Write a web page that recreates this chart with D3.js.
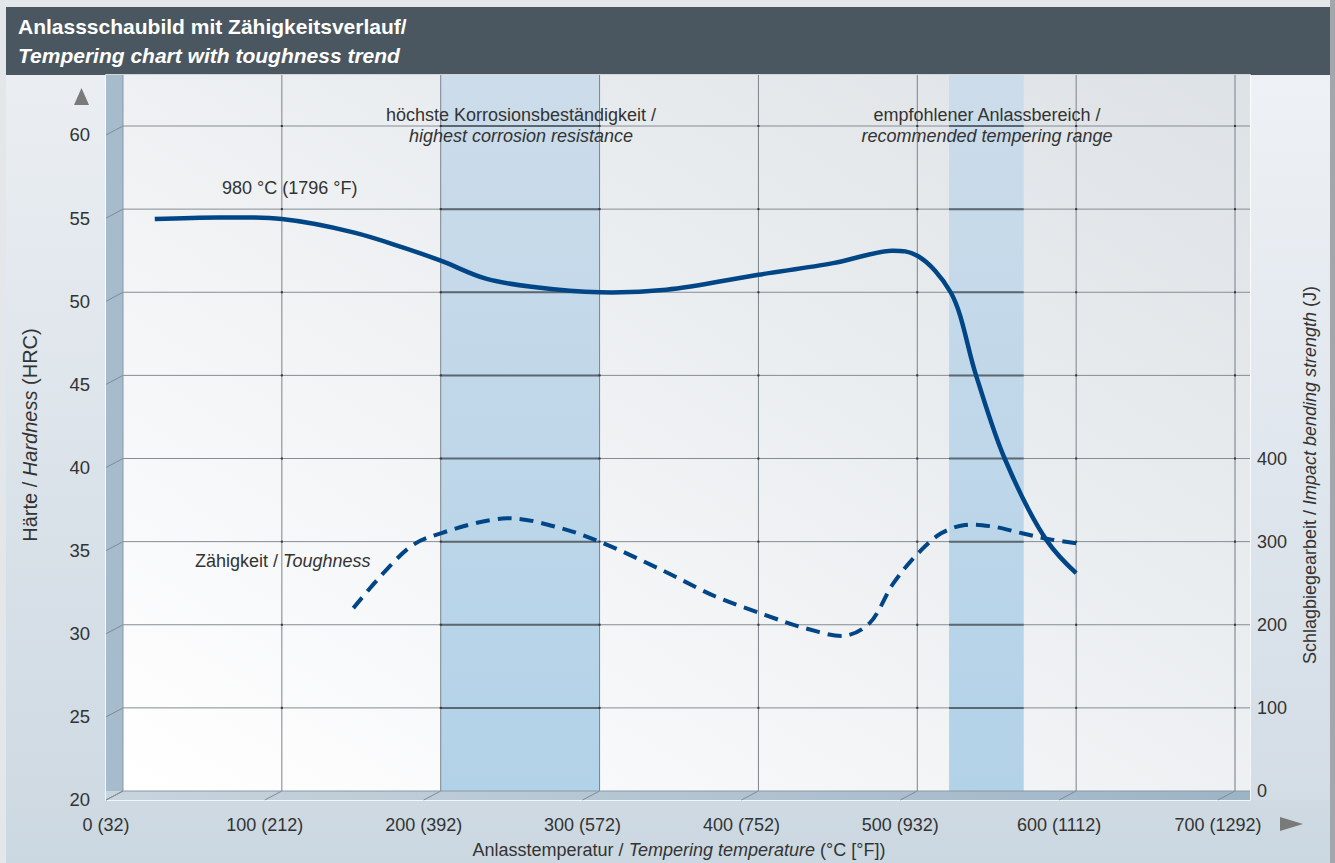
<!DOCTYPE html>
<html>
<head>
<meta charset="utf-8">
<script src="https://cdn.jsdelivr.net/npm/d3@7"></script>
<style>
  body { margin: 0; background: #e4e7ea; }
  svg { display: block; font-family: "Liberation Sans", Arial, sans-serif; }
</style>
</head>
<body>
<div id="chart"></div>
<script>
const width = 1335;
const height = 863;

// x axis: tempering temperature in °C, labels with °F
const tempTicks = [0, 100, 200, 300, 400, 500, 600, 700];
const tempLabels = ["0 (32)", "100 (212)", "200 (392)", "300 (572)", "400 (752)", "500 (932)", "600 (1112)", "700 (1292)"];
// left axis: hardness HRC
const hardTicks = [20, 25, 30, 35, 40, 45, 50, 55, 60];
// right axis: impact bending strength J
const impactTicks = [0, 100, 200, 300, 400];

// hardness after hardening at 980 °C
const hardnessTemp = [20, 60, 100, 145, 176, 200, 229, 260, 300, 342, 400, 447, 484, 500, 521, 537, 555, 582, 600];
const hardnessHRC = [54.4, 54.5, 54.4, 53.6, 52.7, 51.9, 50.8, 50.3, 50.0, 50.15, 51.05, 51.75, 52.5, 52.2, 50.0, 45.0, 40.0, 35.0, 33.1];

// toughness trend
const toughTemp = [145, 181, 200, 242, 276, 300, 339, 373, 404, 429, 455, 470, 485, 500, 515, 530, 548, 566, 583, 600];
const toughJ = [220, 294, 310, 328, 316, 300, 266, 234, 212, 196, 187, 202, 250, 285, 310, 320, 318, 310, 303, 298];

// shaded ranges (°C)
const bandStart = [200, 520];
const bandEnd = [300, 567];

const x = d3.scaleLinear().domain([0, 700]).range([123, 1235]);
const y = d3.scaleLinear().domain([20, 60]).range([791, 126]);
const yJ = d3.scaleLinear().domain([0, 400]).range([y(20), y(40)]);
const dx = -17, dy = 9; // perspective offset of front edge

const svg = d3.select("#chart").append("svg")
  .attr("width", width).attr("height", height);

const defs = svg.append("defs");
const pageGrad = defs.append("linearGradient").attr("id", "pageGrad")
  .attr("x1", 0).attr("y1", 0).attr("x2", 0).attr("y2", 1);
pageGrad.append("stop").attr("offset", 0).attr("stop-color", "#edf0f4");
pageGrad.append("stop").attr("offset", 1).attr("stop-color", "#ccd8e1");

const sideGrad = defs.append("linearGradient").attr("id", "sideGrad")
  .attr("x1", 0).attr("y1", 0).attr("x2", 0).attr("y2", 1);
sideGrad.append("stop").attr("offset", 0).attr("stop-color", "#eef1f5");
sideGrad.append("stop").attr("offset", 1).attr("stop-color", "#d3dde6");

const wallGrad = defs.append("linearGradient").attr("id", "wallGrad")
  .attr("x1", 0).attr("y1", 1).attr("x2", 1).attr("y2", 0);
wallGrad.append("stop").attr("offset", 0).attr("stop-color", "#ffffff");
wallGrad.append("stop").attr("offset", 1).attr("stop-color", "#dde2e6");

const bandGrad = defs.append("linearGradient").attr("id", "bandGrad")
  .attr("x1", 0).attr("y1", 0).attr("x2", 0).attr("y2", 1);
bandGrad.append("stop").attr("offset", 0).attr("stop-color", "#ccdcea");
bandGrad.append("stop").attr("offset", 1).attr("stop-color", "#b2d2e8");

const floorGrad = defs.append("linearGradient").attr("id", "floorGrad")
  .attr("x1", 0).attr("y1", 0).attr("x2", 1).attr("y2", 0);
floorGrad.append("stop").attr("offset", 0).attr("stop-color", "#c8d4de");
floorGrad.append("stop").attr("offset", 1).attr("stop-color", "#9db4c5");

// page background
svg.append("rect").attr("x", 6).attr("y", 7).attr("width", 1324).attr("height", height - 7)
  .attr("fill", "url(#pageGrad)");
svg.append("rect").attr("x", 1330).attr("y", 0).attr("width", 5).attr("height", height)
  .attr("fill", "#a3a7ab");

// right panel
svg.append("rect").attr("x", 1250).attr("y", 75).attr("width", 80).attr("height", 725)
  .attr("fill", "url(#sideGrad)");

// title bar
svg.append("rect").attr("x", 6).attr("y", 7).attr("width", 1324).attr("height", 68)
  .attr("fill", "#4a5760");
svg.append("text").attr("x", 18).attr("y", 34).attr("fill", "#fff")
  .style("font-size", "21px").style("font-weight", "bold")
  .text("Anlassschaubild mit Zähigkeitsverlauf/");
svg.append("text").attr("x", 18).attr("y", 63).attr("fill", "#fff")
  .style("font-size", "21px").style("font-weight", "bold").style("font-style", "italic")
  .text("Tempering chart with toughness trend");

// plot box
const plotLeft = x(0) + dx, plotRight = 1250, plotTop = 75, plotBottom = y(20) + dy;
svg.append("rect").attr("x", plotLeft).attr("y", plotTop)
  .attr("width", plotRight - plotLeft).attr("height", plotBottom - plotTop)
  .attr("fill", "#e2e7eb").attr("stroke", "#ffffff").attr("stroke-width", 1.5);
svg.append("rect").attr("x", x(0)).attr("y", plotTop)
  .attr("width", plotRight - x(0)).attr("height", y(20) - plotTop)
  .attr("fill", "url(#wallGrad)");
// left wall
svg.append("rect").attr("x", plotLeft).attr("y", plotTop)
  .attr("width", x(0) - plotLeft).attr("height", plotBottom - plotTop)
  .attr("fill", "#a6bbcb");
// floor
svg.append("rect").attr("x", plotLeft).attr("y", y(20))
  .attr("width", plotRight - plotLeft).attr("height", dy)
  .attr("fill", "url(#floorGrad)");

// bands
svg.selectAll(".band").data(bandStart).enter().append("rect")
  .attr("class", "band")
  .attr("x", (d) => x(d))
  .attr("y", plotTop)
  .attr("width", (d, i) => x(bandEnd[i]) - x(d))
  .attr("height", y(20) - plotTop)
  .attr("fill", "url(#bandGrad)");

const grid = svg.append("g");
// horizontal grid
grid.selectAll(".hgrid").data(hardTicks.slice(1)).enter().append("line")
  .attr("x1", x(0)).attr("x2", plotRight)
  .attr("y1", (d) => y(d)).attr("y2", (d) => y(d))
  .attr("stroke", "#858c93").attr("stroke-width", 1);
// darker segments over bands
hardTicks.slice(1).forEach((h) => {
  bandStart.forEach((b, i) => {
    grid.append("line")
      .attr("x1", x(b)).attr("x2", x(bandEnd[i]))
      .attr("y1", y(h)).attr("y2", y(h))
      .attr("stroke", "#5c6771").attr("stroke-width", 2);
  });
});
// vertical grid
grid.selectAll(".vgrid").data(tempTicks.slice(1)).enter().append("line")
  .attr("x1", (d) => x(d)).attr("x2", (d) => x(d))
  .attr("y1", plotTop).attr("y2", y(20))
  .attr("stroke", (d) => (d === 700 ? "#9aa1a8" : "#7c838a"))
  .attr("stroke-width", (d) => (d === 700 ? 1.5 : 1));
// left wall diagonals
grid.selectAll(".ldiag").data(hardTicks).enter().append("line")
  .attr("x1", x(0) + dx).attr("y1", (d) => y(d) + dy)
  .attr("x2", x(0)).attr("y2", (d) => y(d))
  .attr("stroke", "#7f8b96").attr("stroke-width", 1);
// floor diagonals
grid.selectAll(".fdiag").data(tempTicks).enter().append("line")
  .attr("x1", (d) => x(d) + dx).attr("y1", y(20) + dy)
  .attr("x2", (d) => x(d)).attr("y2", y(20))
  .attr("stroke", "#7f8b96").attr("stroke-width", 1);
svg.append("line").attr("x1", x(0)).attr("x2", plotRight)
  .attr("y1", y(20)).attr("y2", y(20))
  .attr("stroke", "#8a98a5").attr("stroke-width", 1);
svg.append("line").attr("x1", x(0)).attr("x2", x(0))
  .attr("y1", plotTop).attr("y2", y(20))
  .attr("stroke", "#8a98a5").attr("stroke-width", 1);
// intersection dots
hardTicks.slice(1).forEach((h) => {
  tempTicks.slice(1).forEach((t) => {
    grid.append("rect").attr("x", x(t) - 1).attr("y", y(h) - 1)
      .attr("width", 2).attr("height", 2).attr("fill", "#333");
  });
});

// curves
const lineColor = "#004687";
const hardLine = d3.line()
  .x((d) => x(d[0])).y((d) => y(d[1]))
  .curve(d3.curveCatmullRom.alpha(0.5));
svg.append("path")
  .datum(hardnessTemp.map((t, i) => [t, hardnessHRC[i]]))
  .attr("d", hardLine)
  .attr("fill", "none").attr("stroke", lineColor).attr("stroke-width", 4.5);

const toughLine = d3.line()
  .x((d) => x(d[0])).y((d) => yJ(d[1]))
  .curve(d3.curveCatmullRom.alpha(0.5));
svg.append("path")
  .datum(toughTemp.map((t, i) => [t, toughJ[i]]))
  .attr("d", toughLine)
  .attr("fill", "none").attr("stroke", lineColor).attr("stroke-width", 4)
  .attr("stroke-dasharray", "14,8");

// left axis labels
svg.selectAll(".ylab").data(hardTicks).enter().append("text")
  .attr("x", 90).attr("y", (d) => y(d) + dy)
  .attr("dy", "0.35em").attr("text-anchor", "end")
  .attr("fill", "#333").style("font-size", "18.5px")
  .text((d) => d);
// right axis labels
svg.selectAll(".jlab").data(impactTicks).enter().append("text")
  .attr("x", 1257).attr("y", (d) => yJ(d))
  .attr("dy", "0.35em")
  .attr("fill", "#333").style("font-size", "18px")
  .text((d) => d);
// x labels
svg.selectAll(".xlab").data(tempTicks).enter().append("text")
  .attr("x", (d) => x(d) + dx).attr("y", 831)
  .attr("text-anchor", "middle")
  .attr("fill", "#333").style("font-size", "18px")
  .text((d, i) => tempLabels[i]);

// arrows
svg.append("path").attr("d", "M74,105 L89,105 L81.5,88 Z").attr("fill", "#7a7a7a");
svg.append("path").attr("d", "M1280,817 L1303,824 L1280,831 Z").attr("fill", "#7a7a7a");

// axis titles
const xTitle = svg.append("text").attr("x", 679).attr("y", 856)
  .attr("text-anchor", "middle").attr("fill", "#333").style("font-size", "18px");
xTitle.append("tspan").text("Anlasstemperatur / ");
xTitle.append("tspan").style("font-style", "italic").text("Tempering temperature");
xTitle.append("tspan").text(" (°C [°F])");

const yTitle = svg.append("text")
  .attr("transform", "translate(37,435) rotate(-90)")
  .attr("text-anchor", "middle").attr("fill", "#333").style("font-size", "20px");
yTitle.append("tspan").text("Härte / ");
yTitle.append("tspan").style("font-style", "italic").text("Hardness");
yTitle.append("tspan").text(" (HRC)");

const jTitle = svg.append("text")
  .attr("transform", "translate(1316,475) rotate(-90)")
  .attr("text-anchor", "middle").attr("fill", "#333").style("font-size", "18px");
jTitle.append("tspan").text("Schlagbiegearbeit / ");
jTitle.append("tspan").style("font-style", "italic").text("Impact bending strength");
jTitle.append("tspan").text(" (J)");

// annotations
const annot = svg.append("g").attr("fill", "#333").style("font-size", "18px");
annot.append("text").attr("x", 222).attr("y", 194).text("980 °C (1796 °F)");
annot.append("text").attr("x", 521).attr("y", 121).attr("text-anchor", "middle")
  .text("höchste Korrosionsbeständigkeit /");
annot.append("text").attr("x", 521).attr("y", 142).attr("text-anchor", "middle")
  .style("font-style", "italic").text("highest corrosion resistance");
annot.append("text").attr("x", 987).attr("y", 121).attr("text-anchor", "middle")
  .text("empfohlener Anlassbereich /");
annot.append("text").attr("x", 987).attr("y", 142).attr("text-anchor", "middle")
  .style("font-style", "italic").text("recommended tempering range");
const tough = annot.append("text").attr("x", 195).attr("y", 567);
tough.append("tspan").text("Zähigkeit / ");
tough.append("tspan").style("font-style", "italic").text("Toughness");
</script>
</body>
</html>
